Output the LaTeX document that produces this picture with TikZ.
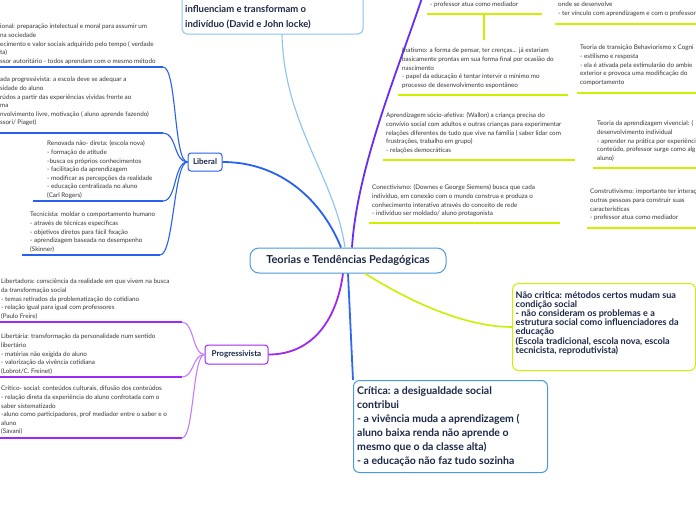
\documentclass[tikz,border=0pt]{standalone}
\usepackage{fontspec}
\setmainfont{Lato}
\newcommand\firstl{\rule{0pt}{5.3pt}}
\newcommand\firstb{\rule{0pt}{9pt}}
\definecolor{libblue}{RGB}{40,96,240}
\definecolor{progpur}{RGB}{160,40,240}
\definecolor{progcurve}{RGB}{196,125,255}
\definecolor{rpur}{RGB}{105,45,240}
\definecolor{ygreen}{RGB}{204,240,0}
\definecolor{lblue}{RGB}{140,195,240}
\definecolor{cblue}{RGB}{74,154,220}
\definecolor{navy}{RGB}{28,40,72}
\definecolor{txt}{RGB}{55,55,55}
\definecolor{critblue}{RGB}{45,105,240}
\begin{document}
\begin{tikzpicture}[x=1pt,y=-1pt,
  small/.style={font=\fontsize{6.3}{8.6}\selectfont, text=txt, align=left, inner sep=0pt, anchor=north west},
  bigtxt/.style={font=\bfseries\fontsize{10.5}{14}\selectfont, text=navy, align=left, inner sep=0pt},
  libline/.style={draw=libblue, line width=1.8pt},
  libcurve/.style={draw=libblue, line width=1.1pt},
  progline/.style={draw=progpur, line width=1.8pt},
  progcurv/.style={draw=progcurve, line width=1.1pt},
  gline/.style={draw=ygreen, line width=1.8pt},
  topic/.style={draw, line width=1pt, fill=white, inner sep=0pt, rounded corners=3pt, font=\bfseries\fontsize{8}{9}\selectfont, text=navy}]
\useasboundingbox (0,0) rectangle (696,520);
\clip (0,0) rectangle (696,520);
\fill[white] (0,0) rectangle (696,520);

% ---------- main nodes ----------
\node[draw=lblue, line width=1pt, rounded corners=5pt, fill=white, minimum width=181pt, minimum height=60pt, inner sep=0pt] (topbox) at (272.5,4) {};
\node[bigtxt, anchor=north west, font=\bfseries\fontsize{9.5}{15}\selectfont] (toptext) at (185,2.8) {\firstb influenciam e transformam o\\indivíduo (David e John locke)};

\node[draw=cblue, line width=1pt, rounded corners=9pt, fill=white, minimum width=196pt, minimum height=25pt, inner sep=0pt, font=\bfseries\fontsize{11}{12}\selectfont, text=navy] (root) at (348,260.5) {Teorias e Tendências Pedagógicas};

\node[topic, draw=libblue, minimum width=34pt, minimum height=18pt] (lib) at (205,162) {Liberal};
\node[topic, draw=progpur, minimum width=63pt, minimum height=19pt] (prog) at (236.5,354.5) {Progressivista};

\node[draw=ygreen, line width=1pt, rounded corners=6pt, fill=white, minimum width=183pt, minimum height=87pt, inner sep=0pt, anchor=north west] (nc) at (512,283) {};
\node[bigtxt, anchor=west, font=\bfseries\fontsize{9.1}{9.2}\selectfont] (nctext) at ([xshift=3.5pt,yshift=4pt]nc.west) {Não critica: métodos certos mudam sua\\condição social\\- não consideram os problemas e a\\estrutura social como influenciadores da\\educação\\(Escola tradicional, escola nova, escola\\tecnicista, reprodutivista)};

\node[draw=cblue, line width=1pt, rounded corners=6pt, fill=white, minimum width=194pt, minimum height=92pt, inner sep=0pt, anchor=north west] (crit) at (353,380) {};
\node[bigtxt, anchor=west] (crittext) at ([xshift=4pt]crit.west) {Crítica: a desigualdade social\\contribui\\- a vivência muda a aprendizagem (\\aluno baixa renda não aprende o\\mesmo que o da classe alta)\\- a educação não faz tudo sozinha};

% ---------- root connectors ----------
\coordinate (rtop) at (423,-5);
\draw[libblue, line width=1.8pt] (lib.east) .. controls +(60,0) and +(-18,-45) .. ([xshift=-7pt]root.north);
\draw[lblue, line width=1.1pt] ([xshift=9.5pt]topbox.south) .. controls +(2,90) and +(-10,-70) .. ([xshift=-3pt]root.north);
\draw[rpur, line width=1.8pt] ([xshift=4pt]root.north) .. controls +(5,-80) and +(-25,75) .. (rtop);
\draw[progpur, line width=1.8pt] ([xshift=-5pt]root.south) .. controls +(-6,45) and +(45,0) .. (prog.east);
\draw[critblue, line width=1.8pt] (root.south) -- (crit.north west);
\draw[ygreen, line width=1.6pt] ([xshift=17pt]root.south) .. controls +(40,25) and +(-50,0) .. (nc.west);

% ---------- Liberal children ----------
\node[small] (tA) at (0,23.4) {\firstl ional: preparação intelectual e moral para assumir um\\na sociedade\\ecimento e valor sociais adquirido pelo tempo ( verdade\\ta)\\ssor autoritário - todos aprendam com o mesmo método};
\node[small] (tB) at (0,76.4) {\firstl ada progressivista: a escola deve se adequar a\\sidade do aluno\\rúdos a partir das experiências vividas frente ao\\ma\\nvolvimento livre, motivação ( aluno aprende fazendo)\\ssori/ Piaget)};
\node[small] (tC) at (47,140.4) {\firstl Renovada não- direta: (escola nova)\\- formação de atitude\\-busca os próprios conhecimentos\\- facilitação da aprendizagem\\- modificar as percepções da realidade\\- educação centralizada no aluno\\(Carl Rogers)};
\node[small] (tD) at (30,211.4) {\firstl Tecnicista: moldar o comportamento humano\\- através de técnicas específicas\\- objetivos diretos para fácil fixação\\- aprendizagem baseada no desempenho\\(Skinner)};

\coordinate (a1) at (0,67);   \coordinate (a2) at (163,67);
\coordinate (b1) at (0,133);  \coordinate (b2) at (163,133);
\coordinate (c1) at (33,201); \coordinate (c2) at (163,201);
\coordinate (d1) at (22,255); \coordinate (d2) at (160,255);
\foreach \p in {a,b,c,d}{\draw[libline] (\p1) -- (\p2);}
\foreach \p in {a,b,c,d}{\draw[libcurve] (\p2) .. controls +(14,0) and +(-14,0) .. (lib.west);}

% ---------- Progressivista children ----------
\node[small] (tE) at (1,278.4) {\firstl Libertadora: consciência da realidade em que vivem na busca\\da transformação social\\- temas retirados da problematização do cotidiano\\- relação igual para igual com professores\\(Paulo Freire)};
\node[small] (tF) at (1,333.4) {\firstl Libertária: transformação da personalidade num sentido\\libertário\\- matérias não exigida do aluno\\- valorização da vivência cotidiana\\(Lobrot/C. Freinet)};
\node[small] (tG) at (1,385.4) {\firstl Crítico- social: conteúdos culturais, difusão dos conteúdos\\- relação direta da experiência do aluno confrotada com o\\saber sistematizado\\-aluno como participadores, prof mediador entre o saber e o\\aluno\\(Savani)};

\coordinate (e1) at (0,322); \coordinate (e2) at (182,322);
\coordinate (f1) at (0,377); \coordinate (f2) at (182,377);
\coordinate (g1) at (0,438); \coordinate (g2) at (182,438);
\foreach \p in {e,f,g}{\draw[progline] (\p1) -- (\p2);}
\foreach \p in {e,f,g}{\draw[progcurv] (\p2) .. controls +(12,0) and +(-12,0) .. (prog.west);}

% ---------- right side ----------
\node[small] (tH) at (430,1.4) {\firstl - professor atua como mediador};
\node[small] (tI) at (558,1.4) {\firstl onde se desenvolve\\- ter vínculo com aprendizagem e com o professor};
\node[small] (tJ) at (402,47.4) {\firstl Inatismo: a forma de pensar, ter crenças... já estariam\\basicamente prontas em sua forma final por ocasião do\\nascimento\\- papel da educação é tentar intervir o mínimo mo\\processo de desenvolvimento espontâneo};
\node[small] (tK) at (580,44.4) {\firstl Teoria de transição Behaviorismo x Cogni\\- estilismo e resposta\\- ela é ativada pela estimularão do ambie\\exterior e provoca uma modificação do\\comportamento};
\node[small] (tL) at (386,112.4) {\firstl Aprendizagem sócio-afetiva: (Wallon) a criança precisa do\\convívio social com adultos e outras crianças para experimentar\\relações diferentes de tudo que vive na família ( saber lidar com\\frustrações, trabalho em grupo)\\- relações democráticas};
\node[small] (tM) at (597,120.4) {\firstl Teoria da aprendizagem vivencial: (\\desenvolvimento individual\\- aprender na prática por experiênci\\conteúdo, professor surge como alg\\aluno)};
\node[small] (tN) at (372,184.4) {\firstl Conectivismo: (Downes e George Siemens) busca que cada\\indivíduo, em conexão com o mundo construa e produza o\\conhecimento interativo através do conceito de rede\\- indivíduo ser moldado/ aluno protagonista};
\node[small] (tO) at (590,188.4) {\firstl Construtivismo: importante ter interaç\\outras pessoas para construir suas\\características\\- professor atua como mediador};

\coordinate (h1) at (427,14); \coordinate (h2) at (542,14);
\coordinate (h3) at (484,14); \coordinate (h4) at (484,40);
\coordinate (i1) at (555,24); \coordinate (i2) at (696,24);
\coordinate (j1) at (398,95); \coordinate (j2) at (568,95);
\coordinate (k1) at (577,93); \coordinate (k2) at (696,93);
\coordinate (l1) at (383,160); \coordinate (l2) at (575,160);
\coordinate (m1) at (593,168); \coordinate (m2) at (696,168);
\coordinate (n1) at (369,223); \coordinate (n2) at (560,223);
\coordinate (o1) at (587,228); \coordinate (o2) at (696,228);
\foreach \p in {h,i,j,k,l,m,n,o}{\draw[gline] (\p1) -- (\p2);}
\draw[ygreen, line width=1.1pt] (h3) -- (h4);
\end{tikzpicture}
\end{document}
